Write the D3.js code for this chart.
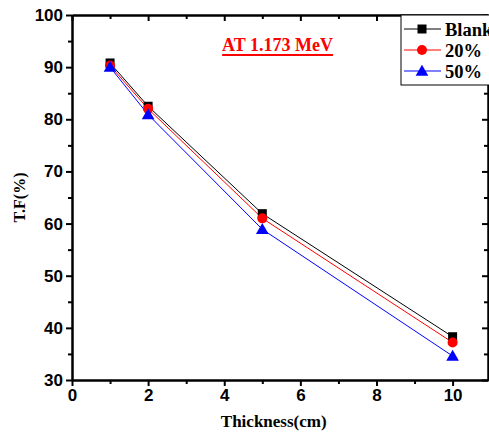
<!DOCTYPE html>
<html>
<head>
<meta charset="utf-8">
<script src="https://cdn.jsdelivr.net/npm/d3@7"></script>
<style>
  body { margin: 0; background: #fff; }
  .tick text { font-family: "Liberation Sans", Arial, sans-serif; font-weight: bold; font-size: 17px; }
</style>
</head>
<body>
<svg id="chart" width="489" height="437"></svg>
<script>
var thickness = [1, 2, 5, 10];
var blank = [90.8, 82.5, 61.9, 38.3];
var pct20 = [90.3, 82.0, 61.0, 37.2];
var pct50 = [90.0, 80.9, 58.9, 34.6];
var seriesNames = ["Blank", "20%", "50%"];
var seriesColors = ["#000000", "#ff0000", "#0000ff"];
var xTicks = [0, 2, 4, 6, 8, 10];
var yTicks = [30, 40, 50, 60, 70, 80, 90, 100];

var svg = d3.select("#chart"),
    margin = {top: 15, right: 1, bottom: 57, left: 72},
    width = +svg.attr("width") - margin.left - margin.right,
    height = +svg.attr("height") - margin.top - margin.bottom,
    g = svg.append("g").attr("transform", "translate(" + margin.left + "," + margin.top + ")");

var x = d3.scaleLinear().domain([0, 10.93]).range([0, width]);
var y = d3.scaleLinear().domain([30, 100]).range([height, 0]);

var series = [blank, pct20, pct50].map(function(vals, i) {
  return { name: seriesNames[i], color: seriesColors[i],
           points: vals.map(function(v, j) { return {x: thickness[j], y: v}; }) };
});

// axes: major ticks outside on left/bottom, inside on top/right
function styleAxis(sel) {
  sel.selectAll(".domain").attr("stroke-width", 2);
  sel.selectAll(".tick line").attr("stroke-width", 2);
}
var minorX = d3.range(1, 11, 2), minorY = d3.range(35, 100, 10);

g.append("g").attr("transform", "translate(0," + height + ")")
  .call(d3.axisBottom(x).tickValues(xTicks).tickSize(6).tickPadding(3).tickSizeOuter(0))
  .call(styleAxis);
g.append("g").attr("transform", "translate(0," + height + ")")
  .call(d3.axisBottom(x).tickValues(minorX).tickSize(4).tickFormat("").tickSizeOuter(0))
  .call(styleAxis);
g.append("g")
  .call(d3.axisLeft(y).tickValues(yTicks).tickSize(6).tickPadding(3).tickSizeOuter(0))
  .call(styleAxis);
g.append("g")
  .call(d3.axisLeft(y).tickValues(minorY).tickSize(4).tickFormat("").tickSizeOuter(0))
  .call(styleAxis);
g.append("g")
  .call(d3.axisTop(x).tickValues(xTicks).tickSize(-6).tickFormat("").tickSizeOuter(0))
  .call(styleAxis);
g.append("g")
  .call(d3.axisTop(x).tickValues(minorX).tickSize(-4).tickFormat("").tickSizeOuter(0))
  .call(styleAxis);
g.append("g").attr("transform", "translate(" + width + ",0)")
  .call(d3.axisRight(y).tickValues(yTicks).tickSize(-6).tickFormat("").tickSizeOuter(0))
  .call(styleAxis);
g.append("g").attr("transform", "translate(" + width + ",0)")
  .call(d3.axisRight(y).tickValues(minorY).tickSize(-4).tickFormat("").tickSizeOuter(0))
  .call(styleAxis);

// axis titles
g.append("text")
  .attr("x", x(5.3)).attr("y", height + 47)
  .attr("text-anchor", "middle")
  .style("font", "bold 17px 'Liberation Serif', 'Times New Roman', serif")
  .text("Thickness(cm)");
g.append("text")
  .attr("transform", "translate(-47," + y(65) + ") rotate(-90)")
  .attr("text-anchor", "middle")
  .style("font", "bold 16px 'Liberation Serif', 'Times New Roman', serif")
  .text("T.F(%)");

// title
var title = g.append("text")
  .attr("x", x(5.4)).attr("y", 36)
  .attr("text-anchor", "middle")
  .attr("fill", "#ff0000")
  .style("font", "bold 18px 'Liberation Serif', 'Times New Roman', serif")
  .text("AT 1.173 MeV");
var tb = title.node().getBBox();
g.append("line")
  .attr("x1", tb.x).attr("x2", tb.x + tb.width)
  .attr("y1", 40).attr("y2", 40)
  .attr("stroke", "#ff0000").attr("stroke-width", 2);

// lines and markers
var line = d3.line().x(function(d) { return x(d.x); }).y(function(d) { return y(d.y); });

function drawMarker(sel, i, cx, cy) {
  if (i === 0) {
    sel.append("rect").attr("x", cx - 4.5).attr("y", cy - 4.5).attr("width", 9).attr("height", 9).attr("fill", "#000");
  } else if (i === 1) {
    sel.append("circle").attr("cx", cx).attr("cy", cy).attr("r", 5).attr("fill", "#ff0000");
  } else {
    sel.append("path").attr("d", d3.symbol(d3.symbolTriangle, 70)()).attr("transform", "translate(" + cx + "," + (cy + 1) + ")").attr("fill", "#0000ff");
  }
}

series.forEach(function(s, i) {
  g.append("path").datum(s.points)
    .attr("fill", "none").attr("stroke", s.color).attr("stroke-width", 1)
    .attr("d", line);
});
series.forEach(function(s, i) {
  var mg = g.append("g");
  s.points.forEach(function(p) { drawMarker(mg, i, x(p.x), y(p.y)); });
});

// legend
var lg = svg.append("g").attr("transform", "translate(401,15)");
lg.append("rect").attr("x", 0).attr("y", 0).attr("width", 92).attr("height", 70)
  .attr("fill", "#fff").attr("stroke", "#000").attr("stroke-width", 1);
series.forEach(function(s, i) {
  var yy = 14 + i * 21;
  lg.append("line").attr("x1", 3).attr("x2", 40).attr("y1", yy).attr("y2", yy)
    .attr("stroke", s.color).attr("stroke-width", 1);
  drawMarker(lg, i, 21, yy);
  lg.append("text").attr("x", 44).attr("y", yy + 7)
    .style("font", "bold 18.5px 'Liberation Serif', 'Times New Roman', serif")
    .text(s.name);
});
</script>
</body>
</html>
